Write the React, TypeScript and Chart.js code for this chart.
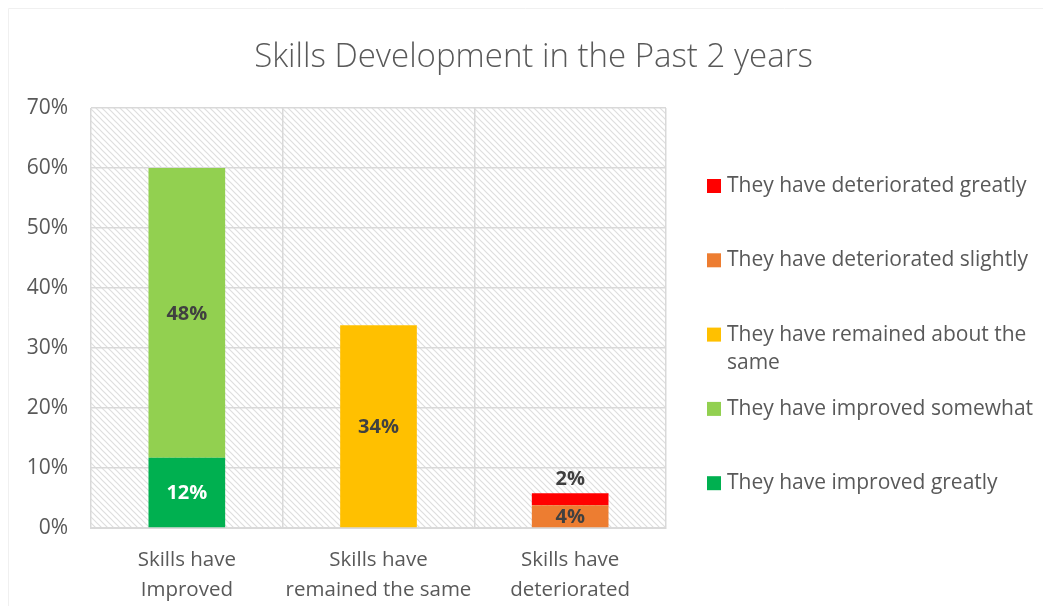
import React, { useEffect, useRef } from "react";
import { Chart, registerables } from "chart.js";
Chart.register(...registerables);

const titleText = "Skills Development in the Past 2 years";
const categories = [
  ["Skills have", "Improved"],
  ["Skills have", "remained the same"],
  ["Skills have", "deteriorated"],
];
const seriesNames = [
  "They have improved greatly",
  "They have improved somewhat",
  "They have remained about the same",
  "They have deteriorated slightly",
  "They have deteriorated greatly",
];
const improvedGreatly = [11.7, null, null];
const improvedSomewhat = [48.3, null, null];
const remainedSame = [null, 33.8, null];
const deterioratedSlightly = [null, null, 3.8];
const deterioratedGreatly = [null, null, 2.0];
const seriesColors = ["#00B050", "#92D050", "#FFC000", "#ED7D31", "#FF0000"];
const labelColors = ["#FFFFFF", "#404040", "#404040", "#404040", "#404040"];
const yMin = 0;
const yMax = 70;
const yStep = 10;

const FONT = "'Open Sans', 'Noto Sans', sans-serif";
const TEXT = "#595959";

function makeHatch(): CanvasPattern | string {
  const c = document.createElement("canvas");
  const s = 6;
  c.width = s;
  c.height = s;
  const g = c.getContext("2d");
  if (!g) return "#fff";
  g.fillStyle = "#ffffff";
  g.fillRect(0, 0, s, s);
  g.strokeStyle = "#dedede";
  g.lineWidth = 1.2;
  g.beginPath();
  g.moveTo(-1, -1);
  g.lineTo(s + 1, s + 1);
  g.moveTo(-1, s - 1);
  g.lineTo(1, s + 1);
  g.moveTo(s - 1, -1);
  g.lineTo(s + 1, 1);
  g.stroke();
  const p = g.createPattern(c, "repeat");
  return p || "#fff";
}

const hatchPlugin = {
  id: "hatchBg",
  beforeDraw(chart: any) {
    const { ctx, chartArea, width, height } = chart;
    ctx.save();
    ctx.fillStyle = "#ffffff";
    ctx.fillRect(0, 0, width, height);
    ctx.strokeStyle = "#f0f0f0";
    ctx.lineWidth = 1;
    ctx.beginPath();
    ctx.moveTo(0.5, height);
    ctx.lineTo(0.5, 0.5);
    ctx.lineTo(width, 0.5);
    ctx.stroke();
    ctx.fillStyle = makeHatch();
    ctx.fillRect(chartArea.left, chartArea.top, chartArea.right - chartArea.left, chartArea.bottom - chartArea.top);
    // title centered over the whole chart
    ctx.fillStyle = TEXT;
    ctx.font = `300 33px ${FONT}`;
    ctx.textAlign = "center";
    ctx.textBaseline = "alphabetic";
    ctx.fillText(titleText, width / 2 + 8, 59);
    ctx.restore();
  },
};

const dataLabelPlugin = {
  id: "dataLabels",
  afterDatasetsDraw(chart: any) {
    const { ctx } = chart;
    ctx.save();
    ctx.font = `bold 20px ${FONT}`;
    ctx.textAlign = "center";
    ctx.textBaseline = "middle";
    chart.data.datasets.forEach((ds: any, di: number) => {
      const meta = chart.getDatasetMeta(di);
      meta.data.forEach((el: any, i: number) => {
        const v = ds.data[i];
        if (v === null || v === undefined) return;
        const { x, y, base } = el.getProps(["x", "y", "base"], true);
        const h = Math.abs(base - y);
        const txt = Math.round(v) + "%";
        if (h < 20) {
          ctx.fillStyle = "#404040";
          ctx.fillText(txt, x, Math.min(y, base) - 14);
        } else {
          ctx.fillStyle = labelColors[di];
          ctx.fillText(txt, x, (y + base) / 2 + 1);
        }
      });
    });
    ctx.restore();
  },
};

const legendPlugin = {
  id: "sideLegend",
  afterDraw(chart: any) {
    const { ctx, chartArea } = chart;
    ctx.save();
    ctx.font = `21px ${FONT}`;
    ctx.textBaseline = "middle";
    ctx.textAlign = "left";
    const boxX = chartArea.right + 41;
    const textX = boxX + 20;
    const maxW = 318;
    const step = 74.3;
    const lineH = 28;
    const y0 = chartArea.top + 78;
    const order = chart.data.datasets.map((_: any, i: number) => i).reverse();
    order.forEach((di: number, k: number) => {
      const ds = chart.data.datasets[di];
      const y = y0 + k * step;
      ctx.fillStyle = ds.backgroundColor;
      ctx.fillRect(boxX, y - 7, 14, 14);
      const words = String(ds.label).split(" ");
      const lines: string[] = [];
      let cur = "";
      words.forEach((w) => {
        const t = cur ? cur + " " + w : w;
        if (ctx.measureText(t).width > maxW && cur) {
          lines.push(cur);
          cur = w;
        } else cur = t;
      });
      if (cur) lines.push(cur);
      ctx.fillStyle = TEXT;
      lines.forEach((ln, li) => ctx.fillText(ln, textX, y + li * lineH));
    });
    ctx.restore();
  },
};

export default function App() {
  const ref = useRef<HTMLCanvasElement | null>(null);
  useEffect(() => {
    if (!ref.current) return;
    const seriesData = [improvedGreatly, improvedSomewhat, remainedSame, deterioratedSlightly, deterioratedGreatly];
    const chart = new Chart(ref.current, {
      type: "bar",
      data: {
        labels: categories as any,
        datasets: seriesNames.map((name, i) => ({
          label: name,
          data: seriesData[i] as any,
          backgroundColor: seriesColors[i],
          borderWidth: 0,
          barPercentage: 0.4,
          categoryPercentage: 1,
        })),
      },
      options: {
        animation: false,
        responsive: true,
        maintainAspectRatio: false,
        layout: { padding: { left: 0, right: 377, top: 100, bottom: 0 } },
        plugins: {
          legend: { display: false },
          tooltip: { enabled: false },
          title: { display: false },
        },
        scales: {
          x: {
            stacked: true,
            grid: { color: "#d9d9d9", lineWidth: 1.5, offset: true, drawTicks: false },
            border: { color: "#d9d9d9", width: 2 },
            ticks: { color: TEXT, font: { family: FONT, size: 20.5, lineHeight: 1.46 }, padding: 17, maxRotation: 0, autoSkip: false },
            afterFit: (s: any) => {
              s.height = 78;
            },
          },
          y: {
            stacked: true,
            min: yMin,
            max: yMax,
            grid: { color: "#d9d9d9", lineWidth: 1.5, drawTicks: false },
            border: { display: false },
            ticks: {
              stepSize: yStep,
              color: TEXT,
              font: { family: FONT, size: 21 },
              padding: 23,
              callback: (v: any) => v + "%",
            },
            afterFit: (s: any) => {
              s.width = 83;
            },
          },
        },
      },
      plugins: [hatchPlugin, dataLabelPlugin, legendPlugin],
    });
    return () => chart.destroy();
  }, []);
  return (
    <div style={{ width: 1035, height: 598, position: "relative" }}>
      <canvas ref={ref} />
    </div>
  );
}
